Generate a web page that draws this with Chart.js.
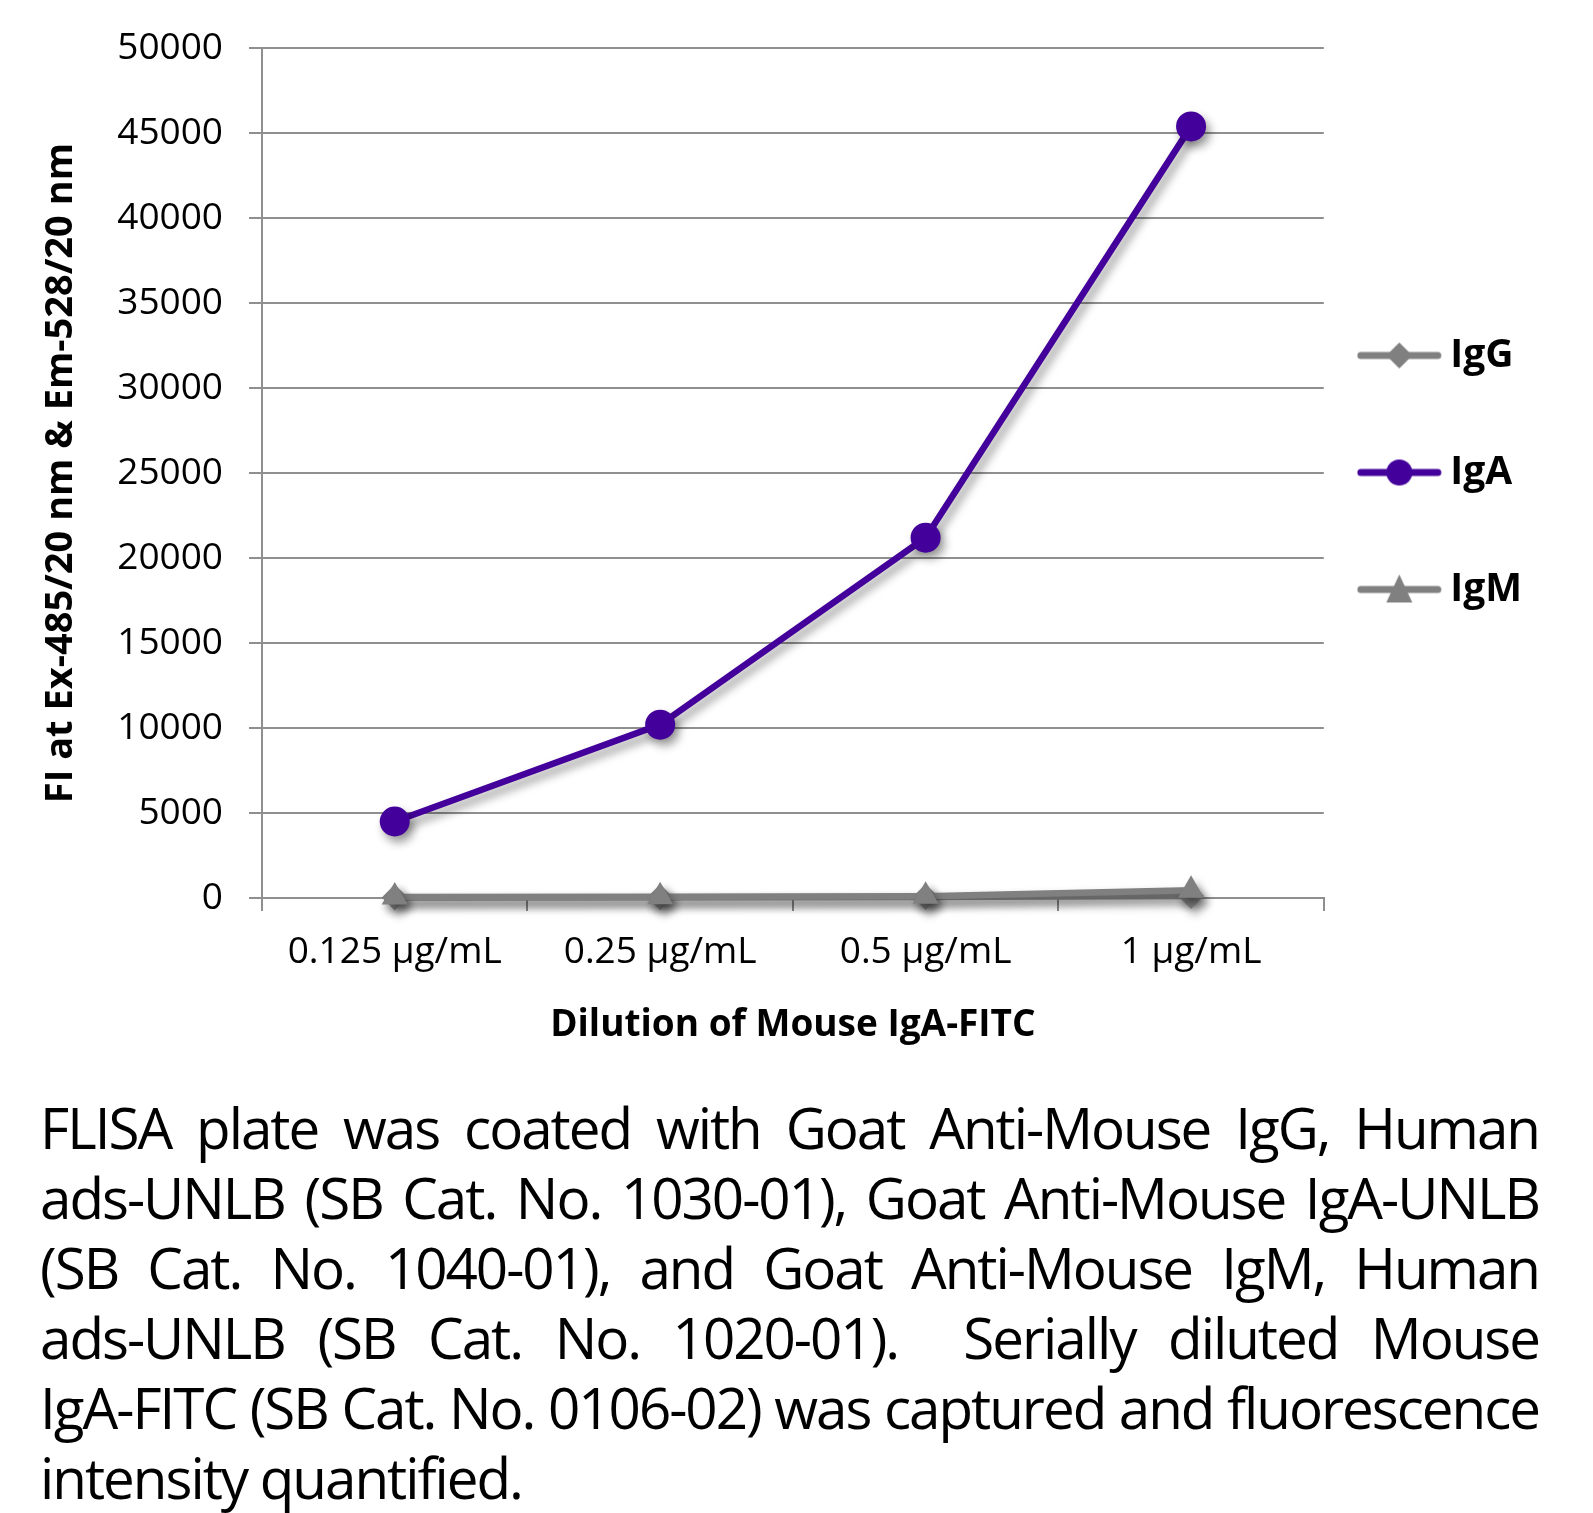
<!DOCTYPE html>
<html>
<head>
<meta charset="utf-8">
<script src="https://cdn.jsdelivr.net/npm/chart.js@4.4.0/dist/chart.umd.min.js"></script>
<style>
  html, body { margin: 0; padding: 0; background: #fff; }
  #wrap { position: relative; width: 1593px; height: 1513px; }
  #chart { position: absolute; left: 0; top: 0; }
  #caption {
    position: absolute; left: 40px; top: 1093px; width: 1499px;
    font-family: "Open Sans", sans-serif; font-size: 46px; line-height: 70px; color: #000;
  }
  #caption div { white-space: nowrap; text-align: justify; text-align-last: justify; height: 70px; }
  #caption div.last { text-align-last: left; }
</style>
</head>
<body>
<div id="wrap">
  <canvas id="chart" width="1593" height="1065"></canvas>
  <div id="caption"></div>
</div>
<script>
// chart values
const dilutions = ['0.125 µg/mL', '0.25 µg/mL', '0.5 µg/mL', '1 µg/mL'];
const iggValues = [30, 40, 60, 120];
const igaValues = [4500, 10200, 21200, 45400];
const igmValues = [60, 70, 100, 450];

const captionLines = [
  'FLISA plate was coated with Goat Anti-Mouse IgG, Human',
  'ads-UNLB (SB Cat. No. 1030-01), Goat Anti-Mouse IgA-UNLB',
  '(SB Cat. No. 1040-01), and Goat Anti-Mouse IgM, Human',
  'ads-UNLB (SB Cat. No. 1020-01).\u00a0 Serially diluted Mouse',
  'IgA-FITC (SB Cat. No. 0106-02) was captured and fluorescence',
  'intensity quantified.'
];

const grey = '#808080';
const purple = '#43009a';
const gridGrey = '#8f8f8f';
const FONT = '"Open Sans", sans-serif';

// measuring helper
const mctx = document.createElement('canvas').getContext('2d');
function textWidth(str, css) { mctx.font = css; return mctx.measureText(str).width; }

// caption: pick size and letter spacing so the long line 5 fills the block
// and the short last line is as wide as in the picture (482px)
const cap = document.getElementById('caption');
const l5 = captionLines[4], l6 = captionLines[5];
const a5 = textWidth(l5, '100px ' + FONT) / 100, a6 = textWidth(l6, '100px ' + FONT) / 100;
const n5 = l5.length, n6 = l6.length;
const target5 = 1492, target6 = 482;
const det = a5 * n6 - a6 * n5;
let capSize = (target5 * n6 - target6 * n5) / det;
let capLs = (a5 * target6 - a6 * target5) / det;
cap.style.fontSize = capSize.toFixed(2) + 'px';
cap.style.letterSpacing = capLs.toFixed(2) + 'px';
captionLines.forEach((l, i) => {
  const d = document.createElement('div');
  d.textContent = l;
  if (i === captionLines.length - 1) d.className = 'last';
  cap.appendChild(d);
});

// legend swatch: line with marker, drawn into a small canvas
function swatch(color, style) {
  const c = document.createElement('canvas');
  c.width = 119; c.height = 36;
  const g = c.getContext('2d');
  g.strokeStyle = color; g.fillStyle = color;
  g.lineWidth = 7; g.lineCap = 'round';
  g.beginPath(); g.moveTo(4, 18); g.lineTo(81, 18); g.stroke();
  const cx = 42.5, cy = 18;
  g.beginPath();
  if (style === 'circle') {
    g.arc(cx, cy, 13, 0, Math.PI * 2);
  } else if (style === 'rectRot') {
    g.moveTo(cx, cy - 13); g.lineTo(cx + 13, cy); g.lineTo(cx, cy + 13); g.lineTo(cx - 13, cy);
  } else {
    g.moveTo(cx, cy - 15); g.lineTo(cx + 13, cy + 13); g.lineTo(cx - 13, cy + 13);
  }
  g.closePath(); g.fill();
  return c;
}

// soft drop shadow under lines and markers
const shadowPlugin = {
  id: 'shadow',
  beforeDatasetsDraw(chart) {
    const ctx = chart.ctx;
    ctx.save();
    ctx.shadowColor = 'rgba(0,0,0,0.4)';
    ctx.shadowBlur = 10;
    ctx.shadowOffsetX = 4;
    ctx.shadowOffsetY = 6;
  },
  afterDatasetsDraw(chart) {
    chart.ctx.restore();
  }
};

const tickFont = { family: FONT, size: 37 };
const titleFont = { family: FONT, size: 37, weight: 'bold' };
const legendFont = { family: FONT, size: 39, weight: 'bold' };

// legend geometry: width = padding + swatch box + half font + text + 10
const legendPad = 78, swatchBox = 29;
const legendText = Math.max(...['IgG', 'IgA', 'IgM'].map(t => textWidth(t, 'bold 39px ' + FONT)));
const legendWidth = legendPad + swatchBox + 19.5 + legendText + 10;
const rightPad = Math.round(1593 - 1324 - legendWidth);

new Chart(document.getElementById('chart'), {
  type: 'line',
  data: {
    labels: dilutions,
    datasets: [
      {
        label: 'IgG', data: iggValues, order: 3,
        borderColor: grey, backgroundColor: grey, borderWidth: 6.5,
        pointStyle: 'rectRot', pointRadius: 13, pointBorderWidth: 0,
        legendStyle: swatch(grey, 'rectRot')
      },
      {
        label: 'IgA', data: igaValues, order: 1,
        borderColor: purple, backgroundColor: purple, borderWidth: 6.5,
        pointStyle: 'circle', pointRadius: 15, pointBorderWidth: 0,
        legendStyle: swatch(purple, 'circle')
      },
      {
        label: 'IgM', data: igmValues, order: 2,
        borderColor: grey, backgroundColor: grey, borderWidth: 6.5,
        pointStyle: 'triangle', pointRadius: 15, pointBorderWidth: 0,
        legendStyle: swatch(grey, 'triangle')
      }
    ]
  },
  options: {
    responsive: false,
    animation: false,
    clip: false,
    layout: { padding: { top: 46, right: rightPad, bottom: 0, left: 0 } },
    plugins: {
      tooltip: { enabled: false },
      legend: {
        position: 'right',
        align: 'start',
        // empty title only pushes the items down
        title: { display: true, text: ' ', font: { size: 10 }, padding: { top: 200, bottom: 0 } },
        labels: {
          usePointStyle: true,
          pointStyleWidth: swatchBox,
          padding: legendPad,
          color: '#000',
          font: legendFont,
          generateLabels(chart) {
            return chart.data.datasets.map((ds, i) => ({
              text: ds.label,
              fontColor: '#000',
              pointStyle: ds.legendStyle,
              fillStyle: ds.borderColor,
              strokeStyle: ds.borderColor,
              lineWidth: 0,
              hidden: false,
              datasetIndex: i
            }));
          }
        }
      }
    },
    scales: {
      x: {
        offset: true,
        grid: { display: true, offset: true, drawOnChartArea: false, drawTicks: true, tickLength: 13, color: gridGrey, lineWidth: 2 },
        border: { color: gridGrey, width: 2 },
        ticks: { color: '#000', font: tickFont, padding: 19, maxRotation: 0 },
        title: { display: true, text: 'Dilution of Mouse IgA-FITC', color: '#000', font: titleFont, padding: { top: 0, bottom: 17 } },
        afterFit(scale) { scale.height = 167; }
      },
      y: {
        min: 0, max: 50000,
        grid: { color: gridGrey, lineWidth: 2, tickLength: 13 },
        border: { color: gridGrey, width: 2 },
        ticks: { stepSize: 5000, color: '#000', font: tickFont, padding: 26, callback: v => String(v) },
        title: { display: true, text: 'FI at Ex-485/20 nm & Em-528/20 nm', color: '#000', font: { family: FONT, size: 38, weight: 'bold' }, padding: { top: 38, bottom: 0 } },
        afterFit(scale) { scale.width = 262; }
      }
    }
  },
  plugins: [shadowPlugin]
});
</script>
</body>
</html>
